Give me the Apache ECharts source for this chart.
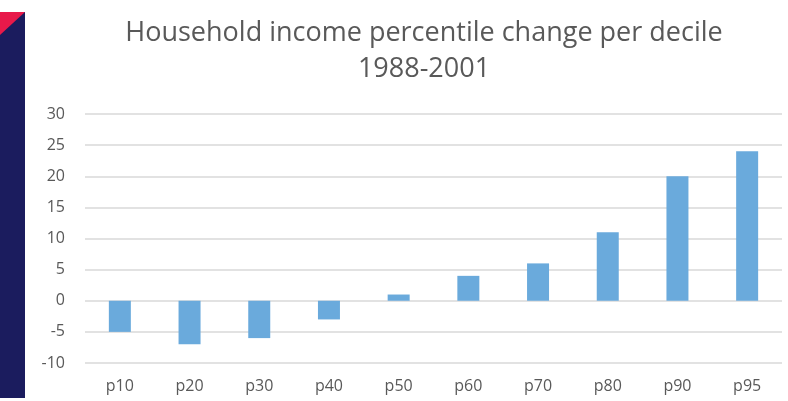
<!DOCTYPE html>
<html>
<head>
<meta charset="utf-8">
<script src="https://cdn.jsdelivr.net/npm/echarts@6/dist/echarts.min.js"></script>
<style>
  html, body { margin: 0; padding: 0; background: #fff; }
  #chart { width: 788px; height: 401px; }
</style>
</head>
<body>
<div id="chart"></div>
<script>
// 分位数类别
const percentiles = ['p10', 'p20', 'p30', 'p40', 'p50', 'p60', 'p70', 'p80', 'p90', 'p95'];
// 1988-2001 的变化值
const changeValues = [-5, -7, -6, -3, 1, 4, 6, 11, 20, 24];
// y轴刻度
const yTicks = [-10, -5, 0, 5, 10, 15, 20, 25, 30];

const textColor = '#595959';
const font = '"Open Sans", "Noto Sans", sans-serif';

let chart = echarts.init(document.getElementById('chart'));
let option = {
    animation: false,
    title: {
        text: 'Household income percentile change per decile\n1988-2001',
        left: 419,
        top: 10,
        textAlign: 'center',
        textStyle: {
            color: textColor,
            fontFamily: font,
            fontWeight: 'normal',
            fontSize: 27,
            lineHeight: 36
        }
    },
    // 左边的装饰条
    graphic: [
        { type: 'rect', shape: { x: 0, y: 12, width: 25, height: 386 }, style: { fill: '#1b1c5e' } },
        { type: 'polygon', shape: { points: [[0, 12], [25, 12], [0, 35]] }, style: { fill: '#e8194a' } }
    ],
    grid: {
        left: 85,
        right: 6,
        top: 114,
        bottom: 38
    },
    xAxis: {
        type: 'category',
        data: percentiles,
        axisLine: { show: false },
        axisTick: { show: false },
        axisLabel: {
            color: textColor,
            fontFamily: font,
            fontSize: 16,
            margin: 15
        }
    },
    yAxis: {
        type: 'value',
        min: yTicks[0],
        max: yTicks[yTicks.length - 1],
        interval: 5,
        axisLine: { show: false },
        axisTick: { show: false },
        splitLine: { lineStyle: { color: '#d9d9d9', width: 1.5 } },
        axisLabel: {
            color: textColor,
            fontFamily: font,
            fontSize: 16,
            margin: 20
        }
    },
    series: [
        {
            type: 'bar',
            data: changeValues,
            barWidth: 22,
            itemStyle: { color: '#6aaadc' }
        }
    ]
};
chart.setOption(option);
</script>
</body>
</html>
